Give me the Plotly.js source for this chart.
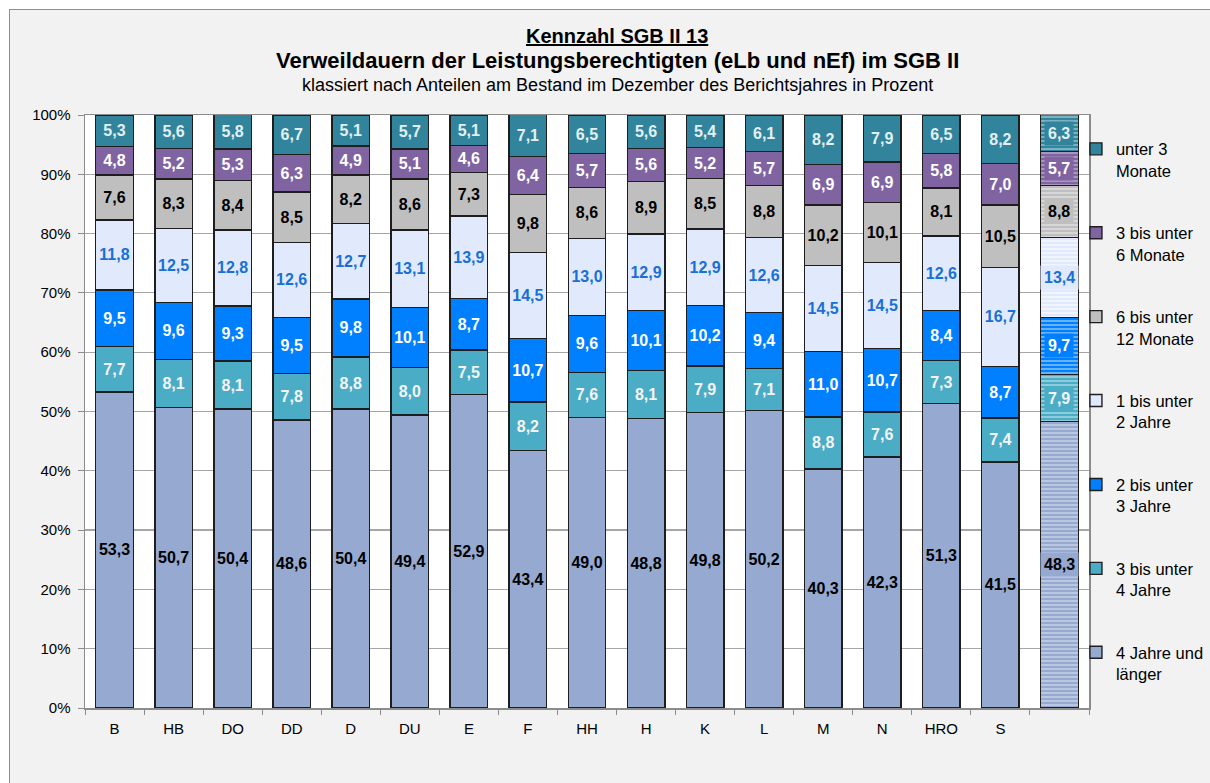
<!DOCTYPE html>
<html>
<head>
<meta charset="utf-8">
<script src="https://cdn.plot.ly/plotly-3.0.1.min.js"></script>
<style>
  html, body { margin: 0; padding: 0; background: #ffffff; }
  #frame { position: absolute; left: 9px; top: 9px; width: 1201px; height: 774px;
           background: #f2f2f2; border-left: 1px solid #5b9bd5; border-top: 1px solid #5b9bd5; box-sizing: border-box; }
  #chart { position: absolute; left: 0; top: 0; width: 1210px; height: 783px; }
</style>
</head>
<body>
<div id="frame"></div>
<div id="chart"></div>
<script>
// ---- Data ----
const categories = ['B','HB','DO','DD','D','DU','E','F','HH','H','K','L','M','N','HRO','S',''];

const seriesNames = [
  '4 Jahre und<br>länger',
  '3 bis unter<br>4 Jahre',
  '2 bis unter<br>3 Jahre',
  '1 bis unter<br>2 Jahre',
  '6 bis unter<br>12 Monate',
  '3 bis unter<br>6 Monate',
  'unter 3<br>Monate'
];

const jahre4plus   = [53.3, 50.7, 50.4, 48.6, 50.4, 49.4, 52.9, 43.4, 49.0, 48.8, 49.8, 50.2, 40.3, 42.3, 51.3, 41.5, 48.3];
const jahre3bis4   = [7.7, 8.1, 8.1, 7.8, 8.8, 8.0, 7.5, 8.2, 7.6, 8.1, 7.9, 7.1, 8.8, 7.6, 7.3, 7.4, 7.9];
const jahre2bis3   = [9.5, 9.6, 9.3, 9.5, 9.8, 10.1, 8.7, 10.7, 9.6, 10.1, 10.2, 9.4, 11.0, 10.7, 8.4, 8.7, 9.7];
const jahre1bis2   = [11.8, 12.5, 12.8, 12.6, 12.7, 13.1, 13.9, 14.5, 13.0, 12.9, 12.9, 12.6, 14.5, 14.5, 12.6, 16.7, 13.4];
const monate6bis12 = [7.6, 8.3, 8.4, 8.5, 8.2, 8.6, 7.3, 9.8, 8.6, 8.9, 8.5, 8.8, 10.2, 10.1, 8.1, 10.5, 8.8];
const monate3bis6  = [4.8, 5.2, 5.3, 6.3, 4.9, 5.1, 4.6, 6.4, 5.7, 5.6, 5.2, 5.7, 6.9, 6.9, 5.8, 7.0, 5.7];
const monateU3     = [5.3, 5.6, 5.8, 6.7, 5.1, 5.7, 5.1, 7.1, 6.5, 5.6, 5.4, 6.1, 8.2, 7.9, 6.5, 8.2, 6.3];

const seriesValues = [jahre4plus, jahre3bis4, jahre2bis3, jahre1bis2, monate6bis12, monate3bis6, monateU3];

const yTickVals = [0,10,20,30,40,50,60,70,80,90,100];

// ---- Styles ----
const fillColors   = ['#95a9d1', '#4bacc6', '#0080ff', '#e0eafc', '#bfbfbf', '#8064a2', '#31849b'];
const stripeColors = ['#c4cfe6', '#9fd3e1', '#80bfff', '#f6f9ff', '#dedede', '#b3a2c8', '#8cbfcd'];
const textColors   = ['#000000', '#f4f4f4', '#ffffff', '#1a6fd4', '#000000', '#ffffff', '#e2f0f4'];
const FONT = 'Liberation Sans, Arial, sans-serif';
const avgIndex = categories.length - 1;

const fmt = v => v.toFixed(1).replace('.', ',');
const xIdx = categories.map((c, i) => i);

const traces = seriesValues.map((vals, k) => ({
  type: 'bar',
  x: xIdx,
  y: vals,
  name: seriesNames[k],
  legendgroup: 'g' + k,
  legendrank: 100 - k,
  marker: {
    color: fillColors[k],
    line: { color: '#1e1e1e', width: 1.4 },
    pattern: {
      shape: xIdx.map(i => i === avgIndex ? '-' : ''),
      fillmode: 'replace',
      bgcolor: fillColors[k],
      fgcolor: stripeColors[k],
      size: 4,
      solidity: 0.4
    }
  },
  text: vals.map((v, i) => i === avgIndex ? '' : fmt(v)),
  textposition: 'inside',
  insidetextanchor: 'middle',
  textangle: 0,
  textfont: { family: FONT, size: 16, color: textColors[k], weight: 'bold' },
  hoverinfo: 'skip'
}));

// labels with boxes on the average bar
const annotations = [];
let cum = 0;
seriesValues.forEach((vals, k) => {
  const v = vals[avgIndex];
  annotations.push({
    x: avgIndex, y: cum + v / 2, xref: 'x', yref: 'y',
    text: fmt(v), showarrow: false,
    bgcolor: fillColors[k], borderpad: 3,
    font: { family: FONT, size: 16, color: textColors[k], weight: 'bold' }
  });
  cum += v;
});

// titles
annotations.push(
  { xref: 'paper', yref: 'paper', x: 0.53, y: 1.1335, yanchor: 'middle', showarrow: false,
    text: '<u>Kennzahl SGB II 13</u>', font: { family: FONT, size: 20, color: '#000', weight: 'bold' } },
  { xref: 'paper', yref: 'paper', x: 0.53, y: 1.0925, yanchor: 'middle', showarrow: false,
    text: 'Verweildauern der Leistungsberechtigten (eLb und nEf) im SGB II', font: { family: FONT, size: 22, color: '#000', weight: 'bold' } },
  { xref: 'paper', yref: 'paper', x: 0.53, y: 1.0505, yanchor: 'middle', showarrow: false,
    text: 'klassiert nach Anteilen am Bestand im Dezember des Berichtsjahres in Prozent', font: { family: FONT, size: 18, color: '#000' } }
);

const layout = {
  width: 1210, height: 783,
  margin: { l: 85, r: 121, t: 115, b: 75, autoexpand: false },
  paper_bgcolor: 'rgba(0,0,0,0)',
  plot_bgcolor: '#ffffff',
  font: { family: FONT, color: '#000' },
  barmode: 'stack',
  bargap: 0.365,
  uniformtext: { mode: 'show', minsize: 16 },
  showlegend: true,
  legend: {
    x: 0.987, xanchor: 'left', y: 0.972, yanchor: 'top',
    traceorder: 'grouped', tracegroupgap: 38, valign: 'top',
    bgcolor: 'rgba(0,0,0,0)', font: { family: FONT, size: 16.5, color: '#000' },
    itemwidth: 30
  },
  xaxis: {
    range: [-0.5, categories.length - 0.5],
    tickmode: 'array', tickvals: xIdx, ticktext: categories,
    ticks: '', showgrid: false, zeroline: false,
    showline: true, linecolor: '#8c8c8c', linewidth: 1.5, mirror: true,
    tickfont: { family: FONT, size: 15, color: '#000' },
    ticklabelstandoff: 6,
    minor: { tick0: -0.5, dtick: 1, ticks: 'outside', ticklen: 5, tickcolor: '#8c8c8c', tickwidth: 1, showgrid: false }
  },
  yaxis: {
    range: [0, 100], tickmode: 'array', tickvals: yTickVals,
    ticktext: yTickVals.map(v => v + '%'),
    ticks: 'outside', ticklen: 6, tickcolor: '#8c8c8c',
    showgrid: true, gridcolor: '#a6a6a6', gridwidth: 1.2, zeroline: false,
    showline: true, linecolor: '#8c8c8c', linewidth: 1.5, mirror: true,
    tickfont: { family: FONT, size: 15, color: '#000' },
    ticklabelstandoff: 4
  },
  annotations: annotations
};

Plotly.newPlot('chart', traces, layout, { displayModeBar: false, staticPlot: true });
</script>
</body>
</html>
